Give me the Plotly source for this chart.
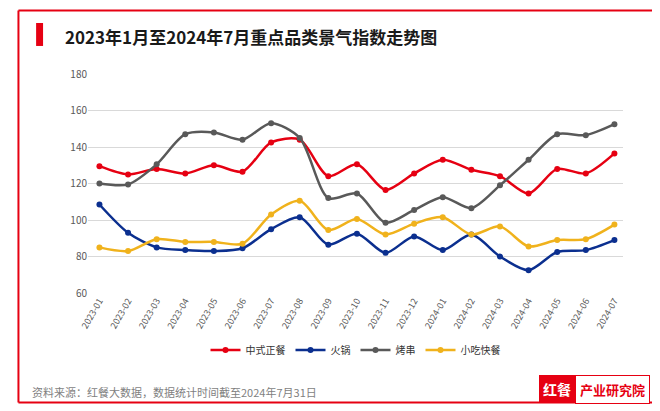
import plotly.graph_objects as go

months = ["2023-01","2023-02","2023-03","2023-04","2023-05","2023-06","2023-07","2023-08","2023-09","2023-10","2023-11","2023-12",
          "2024-01","2024-02","2024-03","2024-04","2024-05","2024-06","2024-07"]
zhongshi = [129.5,125,128,125.5,130,126.5,142.5,144,124,130.5,116.5,125.5,133,127.5,124,114.5,128,125.5,136.5]
huoguo = [108.5,93,85,83.5,83,84.5,95,101.5,86.5,92.5,82,91,83.5,92,80,72.5,82.5,83.5,89]
kaochuan = [120,119.5,130.5,147,148,144,153,145,112,114.5,98.5,105.5,112.5,106.5,119,133,147,146.5,152.5]
xiaochi = [85,83,89.5,88,88,87,103,110.5,94.5,100.5,92,98,101.5,92,96.5,85.5,89,89.5,97.5]

series = [("中式正餐", zhongshi, "#e60012"), ("火锅", huoguo, "#0b2f8f"),
          ("烤串", kaochuan, "#595959"), ("小吃快餐", xiaochi, "#f0b21c")]

fig = go.Figure()
for name, vals, c in series:
    fig.add_trace(go.Scatter(x=months, y=vals, name=name, mode="lines+markers",
                             line=dict(color=c, width=2.5, shape="spline", smoothing=0.8),
                             marker=dict(size=6, color=c)))

fig.update_layout(
    width=660, height=411, paper_bgcolor="white", plot_bgcolor="white",
    margin=dict(l=80, r=45, t=66, b=126),
    font=dict(family="Noto Sans CJK SC", color="#595959", size=10),
    showlegend=True,
    legend=dict(orientation="h", x=0.5, xanchor="center", y=-0.26, yanchor="middle",
                font=dict(size=10, color="#333"), itemwidth=30),
    xaxis=dict(type="category", range=[-0.4, 18.3], tickangle=-60, showgrid=False, showline=False, ticks="",
               tickfont=dict(size=9, color="#595959")),
    yaxis=dict(range=[60, 180], dtick=20, gridcolor="#d9d9d9", zeroline=False, tickfont=dict(size=10, color="#595959")),
    annotations=[
        dict(text="<b>2023年1月至2024年7月重点品类景气指数走势图</b>", xref="paper", yref="paper",
             x=-0.047, y=1.17, xanchor="left", yanchor="middle", showarrow=False,
             font=dict(size=17, color="#1a1a1a")),
        dict(text="资料来源：红餐大数据，数据统计时间截至2024年7月31日", xref="paper", yref="paper",
             x=-0.108, y=-0.45, xanchor="left", yanchor="middle", showarrow=False,
             font=dict(size=11, color="#7f7f7f")),
        dict(text="<b>红餐</b>", xref="paper", yref="paper", x=0.91, y=-0.44, xanchor="right", yanchor="middle",
             showarrow=False, bgcolor="#e60012", bordercolor="#e60012", borderwidth=1,
             font=dict(size=14, color="white"), borderpad=3),
        dict(text="<b>产业研究院</b>", xref="paper", yref="paper", x=0.91, y=-0.44, xanchor="left", yanchor="middle",
             showarrow=False, bgcolor="white", bordercolor="#e60012", borderwidth=1,
             font=dict(size=13, color="#e60012"), borderpad=4),
    ],
)
fig.add_shape(type="rect", xref="paper", yref="paper", x0=-0.097, x1=-0.084, y0=1.128, y1=1.233,
              fillcolor="#e60012", line_width=0)
bx0, bx1, by0, by1 = -0.13, 1.06, -0.5, 1.29
for (a, b, c, d) in [(bx0, by1, bx1, by1), (bx0, by0, bx1, by0), (bx0, by0, bx0, by1), (bx1, by0, bx1, by1)]:
    fig.add_shape(type="line", xref="paper", yref="paper", x0=a, y0=b, x1=c, y1=d,
                  line=dict(color="#e60012", width=2))
fig.write_html("out.html")
